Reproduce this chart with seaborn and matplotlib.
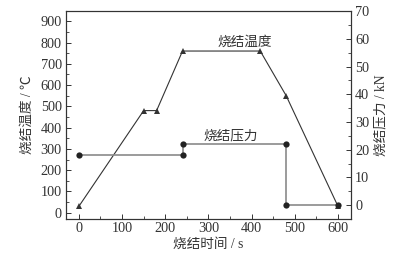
import matplotlib
matplotlib.use("Agg")
import matplotlib.pyplot as plt
import seaborn as sns
import pandas as pd
from matplotlib.ticker import MultipleLocator

sns.set_style("white")
plt.rcParams['font.family'] = ['Liberation Serif', 'Noto Sans CJK SC']

# Data
temp_time = [0, 150, 180, 240, 420, 480, 600]
temp_vals = [30, 480, 480, 760, 760, 550, 30]
press_time = [0, 240, 240, 480, 480, 600]
press_vals = [18, 18, 22, 22, 0, 0]

xlabel = "烧结时间 / s"
ylabel_left = "烧结温度 / ℃"
ylabel_right = "烧结压力 / kN"
label_temp = "烧结温度"
label_press = "烧结压力"

tc = '#333333'
fig = plt.figure(figsize=(4.02, 2.63), dpi=100)
ax = fig.add_axes([0.164, 0.167, 0.709, 0.791])
ax2 = ax.twinx()

df_t = pd.DataFrame({"t": temp_time, "v": temp_vals})
df_p = pd.DataFrame({"t": press_time, "v": press_vals})

sns.lineplot(data=df_t, x="t", y="v", ax=ax, color='#333333', lw=0.8,
             marker='^', markersize=5, markeredgewidth=0, sort=False, estimator=None)
sns.lineplot(data=df_p, x="t", y="v", ax=ax2, color='#8a8a8a', lw=1.2,
             marker='o', markersize=4.5, markerfacecolor='#222222',
             markeredgewidth=0, sort=False, estimator=None)

ax.set_xlim(-30, 630)
ax.set_ylim(-30, 948)
ax2.set_ylim(-5, 70)

ax.xaxis.set_major_locator(MultipleLocator(100))
ax.xaxis.set_minor_locator(MultipleLocator(50))
ax.yaxis.set_major_locator(MultipleLocator(100))
ax.yaxis.set_minor_locator(MultipleLocator(50))
ax2.yaxis.set_major_locator(MultipleLocator(10))
ax2.yaxis.set_minor_locator(MultipleLocator(5))

for a in (ax, ax2):
    a.tick_params(which='both', direction='in', colors='#333333', labelcolor=tc, labelsize=10.3, pad=3)
    a.tick_params(which='major', length=3.5, width=0.7)
    a.tick_params(which='minor', length=2, width=0.6)
    for s in a.spines.values():
        s.set_color('#333333')
        s.set_linewidth(0.8)
ax.tick_params(axis='x', which='both', bottom=True, top=False, pad=2)
ax.tick_params(axis='y', which='both', left=True, right=False)
ax2.tick_params(axis='y', which='both', right=True, left=False)

ax.set_xlabel(xlabel, fontsize=9.8, color=tc, labelpad=2)
ax.set_ylabel(ylabel_left, fontsize=9.8, color=tc, labelpad=5)
ax2.set_ylabel(ylabel_right, fontsize=9.8, color=tc, labelpad=4)

ax.text(322, 800, label_temp, fontsize=9.8, color=tc, va='center', ha='left')
ax.text(288, 360, label_press, fontsize=9.8, color=tc, va='center', ha='left')

fig.savefig("out.png", dpi=100)
